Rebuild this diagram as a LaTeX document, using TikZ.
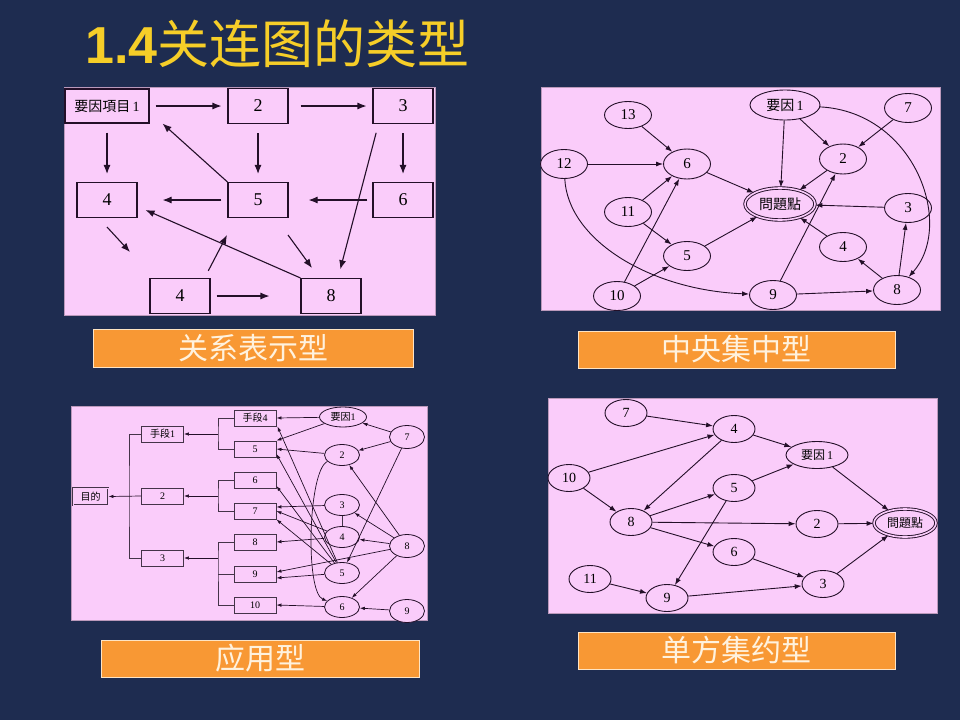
\documentclass[tikz,border=0pt]{standalone}
\usepackage{fontspec}
\setmainfont{Liberation Serif}
\newfontfamily\cjk{Noto Sans CJK SC}
\newfontfamily\cjktc{Noto Sans CJK TC}
\newfontfamily\titlesans{Liberation Sans}
\usetikzlibrary{shapes.geometric,arrows.meta,calc}
\definecolor{bg}{RGB}{30,44,80}
\definecolor{pinkbg}{RGB}{250,204,250}
\definecolor{ink}{RGB}{35,15,40}
\definecolor{orng}{RGB}{248,152,52}
\definecolor{ttl}{RGB}{246,206,40}
\definecolor{capt}{RGB}{255,242,222}
\begin{document}
\begin{tikzpicture}[x=1pt,y=-1pt,
  panel/.style={fill=pinkbg, draw=pinkbg!75!black, line width=0.6pt},
  bxa/.style={draw=ink, fill=pinkbg, line width=1.1pt, minimum width=60pt, minimum height=35pt, inner sep=0pt, font=\fontsize{18}{18}\selectfont},
  aa/.style={draw=ink, line width=1.1pt, -{Latex[length=9pt,width=7pt]}},
  elb/.style={ellipse, draw=ink, fill=pinkbg, line width=0.9pt, minimum width=47pt, minimum height=29pt, inner sep=0pt, font=\fontsize{15}{15}\selectfont},
  ab/.style={draw=ink, line width=0.9pt, -{Latex[length=7pt,width=5pt]}},
  bxc/.style={draw=ink!85, fill=pinkbg, line width=0.9pt, minimum width=42pt, minimum height=16pt, inner sep=0pt, font=\fontsize{10}{10}\selectfont},
  elc/.style={ellipse, draw=ink, fill=pinkbg, line width=0.8pt, minimum width=35pt, minimum height=21pt, inner sep=0pt, font=\fontsize{10}{10}\selectfont},
  ac/.style={draw=ink, line width=0.7pt, -{Latex[length=5pt,width=3.5pt]}},
  treeline/.style={draw=ink!85, line width=0.9pt},
  eld/.style={ellipse, draw=ink, fill=pinkbg, line width=0.9pt, minimum width=42pt, minimum height=27pt, inner sep=0pt, font=\fontsize{14}{14}\selectfont},
  ad/.style={draw=ink, line width=0.9pt, -{Latex[length=7pt,width=5pt]}},
  capbox/.style={fill=orng, draw=capt!85!orng, line width=0.8pt, minimum width=318pt, minimum height=37pt, inner sep=0pt, text=capt, font=\cjk\fontsize{30}{30}\selectfont}
]
\useasboundingbox (0,0) rectangle (960,720);
\fill[bg] (0,0) rectangle (960,720);

% title
\node[anchor=base west, text=ttl, inner sep=0pt] (title) at (85,63) {\titlesans\bfseries\fontsize{52}{52}\selectfont 1.4\cjk\mdseries 关连图的类型};

% ===== panel 1 =====
\path[panel] (64,87) rectangle (435,315);
\node[bxa, minimum width=84pt, minimum height=34pt] (p1a) at (107,106) {\cjktc\fontsize{14}{14}\selectfont 要因項目\,\rmfamily 1};
\node[bxa] (p1b) at (258,106) {2};
\node[bxa] (p1c) at (403,106) {3};
\node[bxa] (p1d) at (107,200) {4};
\node[bxa] (p1e) at (258,200) {5};
\node[bxa] (p1f) at (403,200) {6};
\node[bxa] (p1g) at (180,296) {4};
\node[bxa] (p1h) at (331,296) {8};
\coordinate (d1s) at (107,227);
\coordinate (d1e) at (130,252);
\coordinate (d2e) at (227,235);
\coordinate (d3s) at (288,235);
\coordinate (d3e) at (312,268);
\draw[aa, shorten <=6pt, shorten >=6pt] (p1a.east) -- (p1b.west);
\draw[aa, shorten <=12pt, shorten >=6pt] (p1b.east) -- (p1c.west);
\draw[aa, shorten <=9pt, shorten >=8pt] (p1a.south) -- (p1d.north);
\draw[aa, shorten <=9pt, shorten >=8pt] (p1b.south) -- (p1e.north);
\draw[aa, shorten <=9pt, shorten >=8pt] (p1c.south) -- (p1f.north);
\draw[aa] (p1e.north west) -- ($(p1a.south east)+(13,0)$);
\draw[aa, shorten <=6pt, shorten >=25pt] (p1e.west) -- (p1d.east);
\draw[aa, shorten <=5pt, shorten >=20pt] (p1f.west) -- (p1e.east);
\draw[aa, shorten <=9pt, shorten >=9pt] ($(p1c.south west)+(6,0)$) -- ($(p1h.north)+(7,0)$);
\draw[aa] (d1s) -- (d1e);
\draw[aa, shorten <=8pt] ($(p1g.north east)+(-6,0)$) -- (d2e);
\draw[aa] (d3s) -- (d3e);
\draw[aa, shorten <=6pt, shorten >=31pt] (p1g.east) -- (p1h.west);
\draw[aa] (p1h.north west) -- ($(p1d.east)+(8,10)$);

% ===== panel 2 =====
\path[panel] (541,87) rectangle (940,310);
\node[elb, minimum width=70pt, minimum height=30pt] (q1) at (785,105) {\cjktc\fontsize{14}{14}\selectfont 要因\,\rmfamily 1};
\node[elb] (q7) at (908,108) {7};
\node[elb, minimum height=27pt] (q13) at (628,115) {13};
\node[elb] (q12) at (564,164) {12};
\node[elb, minimum height=30pt] (q6) at (687,164) {6};
\node[elb, minimum height=30pt] (q2) at (843,159) {2};
\node[elb, minimum width=70pt, minimum height=32pt, double=pinkbg, double distance=1.6pt] (qp) at (780,204) {\cjktc\fontsize{14}{14}\selectfont 問題點};
\node[elb] (q3) at (908,208) {3};
\node[elb] (q11) at (628,212) {11};
\node[elb] (q4) at (843,247) {4};
\node[elb] (q5) at (687,256) {5};
\node[elb] (q9) at (773,295) {9};
\node[elb] (q8) at (897,290) {8};
\node[elb] (q10) at (617,296) {10};
\draw[ab] (q13) -- (q6);
\draw[ab] (q12) -- (q6);
\draw[ab] (q11) -- (q6);
\draw[ab] (q10) -- (q6);
\draw[ab] (q11) -- (q5);
\draw[ab] (q10) -- (q5);
\draw[ab] (q6) -- (qp);
\draw[ab] (q5) -- (qp);
\draw[ab] (q1) -- (qp);
\draw[ab] (q1) -- (q2);
\draw[ab] (q7) -- (q2);
\draw[ab] (q2) -- (qp);
\draw[ab] (q3) -- (qp);
\draw[ab] (q4) -- (qp);
\draw[ab] (q8) -- (q4);
\draw[ab] (q8) -- (q3);
\draw[ab] (q9) -- (q8);
\draw[ab] (q9) -- (q2);
\draw[ab] (q12) .. controls (568,240) and (650,290) .. (q9);
\draw[ab] (q1) .. controls (915,112) and (955,225) .. (q8);

% ===== panel 3 =====
\path[panel] (71,406) rectangle (427,620);
\node[bxc, minimum width=35pt, minimum height=17pt, double=pinkbg, double distance=1pt] (g) at (90.5,496.5) {\cjktc\fontsize{10}{10}\selectfont 目的};
\node[bxc] (t1) at (162.5,434) {\cjktc\fontsize{10}{10}\selectfont 手段\rmfamily 1};
\node[bxc] (t2) at (162.5,496) {2};
\node[bxc] (t3) at (162.5,558) {3};
\node[bxc] (s4) at (255,418) {\cjktc\fontsize{10}{10}\selectfont 手段\rmfamily 4};
\node[bxc] (b5) at (255,449) {5};
\node[bxc] (b6) at (255,480) {6};
\node[bxc] (b7) at (255,511) {7};
\node[bxc] (b8) at (255,542) {8};
\node[bxc] (b9) at (255,574) {9};
\node[bxc] (b10) at (255,605) {10};
\node[elc, minimum width=47pt, minimum height=20pt] (r1) at (343,417) {\cjktc\fontsize{10}{10}\selectfont 要因\rmfamily 1};
\node[elc, minimum height=23pt] (e7) at (407,437) {7};
\node[elc] (e2) at (342,455) {2};
\node[elc] (e3) at (342,505) {3};
\node[elc] (e4) at (342,537) {4};
\node[elc, minimum height=23pt] (e8) at (407,546) {8};
\node[elc] (e5) at (342,573) {5};
\node[elc] (e6) at (342,607) {6};
\node[elc, minimum height=23pt] (e9) at (407,611) {9};
% tree
\coordinate (j1) at (218,434);
\coordinate (j2) at (218,496);
\coordinate (j3) at (218,558);
\coordinate (k0) at (129,496);
\draw[treeline] (s4.west) -| (j1) |- (b5.west);
\draw[treeline] (b6.west) -| (j2) |- (b7.west);
\draw[treeline] (b8.west) -| (j3) |- (b10.west);
\draw[treeline] (b9.west) -- (b9.west -| j3);
\draw[treeline] (t1.west) -| (k0) |- (t3.west);
\draw[ac] (j1) -- (t1.east);
\draw[ac] (j2) -- (t2.east);
\draw[ac] (j3) -- (t3.east);
\draw[ac] (t2.west) -- (g.east);
% edges
\draw[ac] (r1) -- (s4.east);
\draw[ac] (r1) -- (b5.north east);
\draw[ac] (e7) -- (r1);
\draw[ac] (e7) -- (e2);
\draw[ac] (e7) -- (e5);
\draw[ac] (e2) -- (b5.east);
\draw[ac] (e2) .. controls (308,470) and (305,592) .. (e6);
\draw[ac] (e8) -- (e2);
\draw[ac] (e3) -- ($(b7.east)+(0,-4)$);
\draw[treeline] (e3) -- (e4);
\draw[ac] (e8) -- (e3);
\draw[ac] (e8) -- (e4);
\draw[ac] (e8) -- ($(b9.east)+(0,-2)$);
\draw[ac] (e8) -- (e6);
\draw[ac] (e9) -- (e6);
\draw[ac] (e6) -- (b10.east);
\draw[ac] (e4) -- (b7.east);
\draw[ac] (e4) -- (b8.east);
\draw[ac] (e5) -- ($(s4.south east)+(1,0)$);
\draw[ac] (e5) -- ($(b5.east)+(0,5)$);
\draw[ac] (e5) -- ($(b6.east)+(0,6)$);
\draw[ac] (e5) -- (b7.south east);
\draw[ac] (e5) -- ($(b9.east)+(0,4)$);

% ===== panel 4 =====
\path[panel] (548,398) rectangle (937,613);
\node[eld] (f7) at (626,413) {7};
\node[eld] (f4) at (734,429) {4};
\node[eld] (f10) at (569,478) {10};
\node[eld, minimum width=62pt] (f1) at (817,455) {\cjktc\fontsize{12}{12}\selectfont 要因\,\rmfamily 1};
\node[eld] (f5) at (734,488) {5};
\node[eld] (f8) at (631,522) {8};
\node[eld] (f2) at (817,524) {2};
\node[eld, minimum width=62pt, minimum height=28pt, double=pinkbg, double distance=1.6pt] (fp) at (905,523) {\cjktc\fontsize{12}{12}\selectfont 問題點};
\node[eld] (f6) at (734,552) {6};
\node[eld] (f11) at (590,579) {11};
\node[eld] (f9) at (667,598) {9};
\node[eld] (f3) at (823,584) {3};
\draw[ad] (f7) -- (f4);
\draw[ad] (f10) -- (f4);
\draw[ad] (f10) -- (f8);
\draw[ad] (f4) -- (f1);
\draw[ad] (f4) -- (f8);
\draw[ad] (f5) -- (f1);
\draw[ad] (f8) -- (f5);
\draw[ad] (f8) -- (f2);
\draw[ad] (f8) -- (f6);
\draw[ad] (f5) -- (f9);
\draw[ad] (f6) -- (f3);
\draw[ad] (f11) -- (f9);
\draw[ad] (f9) -- (f3);
\draw[ad] (f1) -- (fp);
\draw[ad] (f2) -- (fp);
\draw[ad] (f3) -- (fp);

% captions
\node[capbox, minimum width=320pt, minimum height=38pt] (c1) at (253,348) {关系表示型};
\node[capbox, minimum width=317pt] (c2) at (736.5,349.5) {中央集中型};
\node[capbox] (c3) at (260,658.5) {应用型};
\node[capbox, minimum width=317pt] (c4) at (736.5,650.5) {单方集约型};
\end{tikzpicture}
\end{document}
